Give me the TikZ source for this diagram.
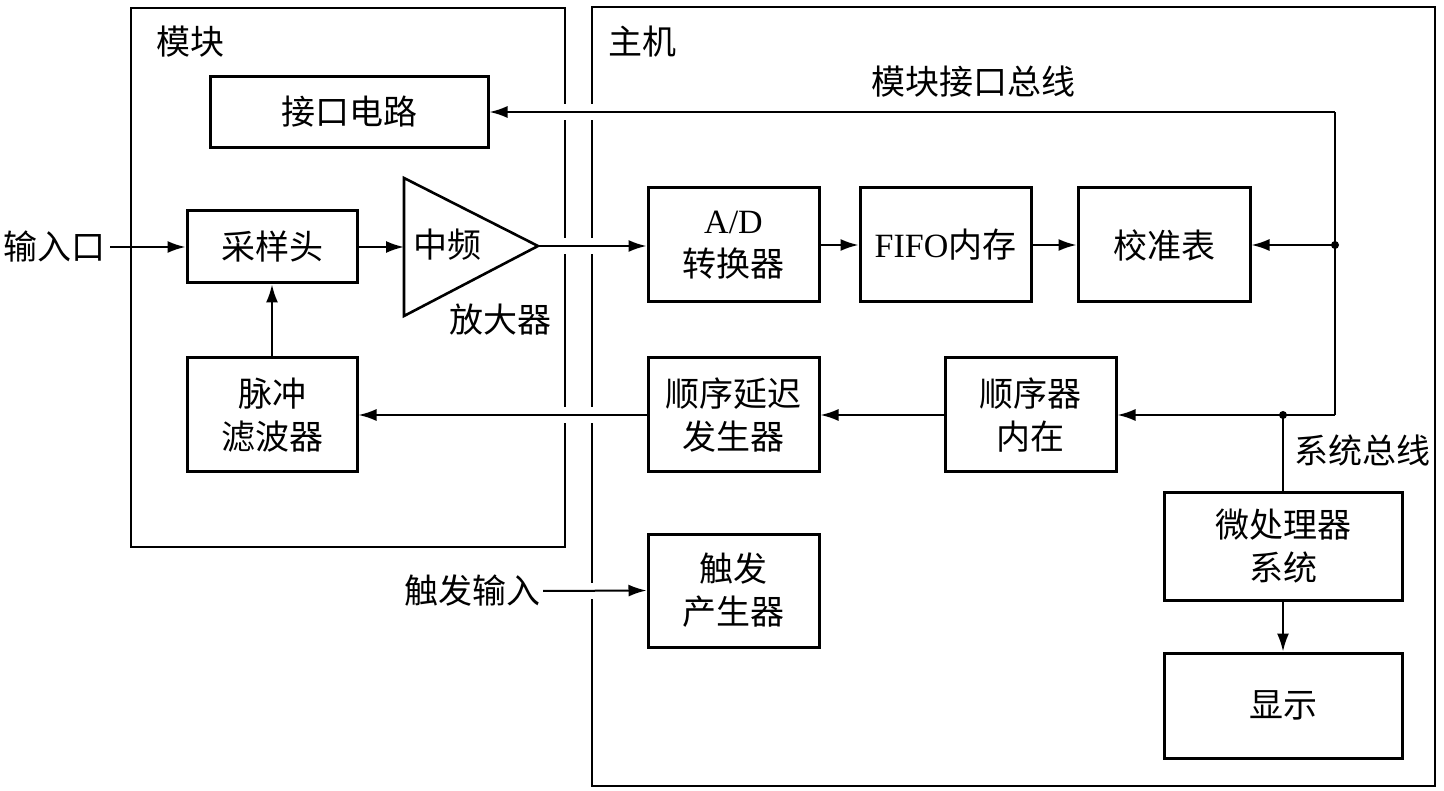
\documentclass[tikz,border=0pt]{standalone}
\usepackage{fontspec}
\setmainfont{Liberation Serif}
\newfontfamily\cjk{Noto Sans CJK SC}
\newfontfamily\latf{Liberation Serif}
\usetikzlibrary{arrows.meta}
\begin{document}
\begin{tikzpicture}[x=1pt,y=-1pt,
  txt/.style={font=\cjk\fontsize{34}{43}\selectfont, inner sep=0pt, align=center},
  blk/.style={draw, line width=3pt, txt},
  frame/.style={line width=2.4pt},
  conn/.style={line width=2pt},
  arr/.style={conn, -{Latex[length=18pt,width=12pt]}},
  dot/.style={circle, fill, inner sep=0pt, minimum size=8pt}]
\useasboundingbox (0,0) rectangle (1444,791);
% frames
\draw[frame] (131,8) rectangle (565,547);
\draw[frame] (592,7) rectangle (1435,786);
\node[txt] (lmod) at (190,42) {模块};
\node[txt] (lhost) at (642,42) {主机};
% boxes
\node[blk, minimum width=278, minimum height=71] (iface) at (349,112) {接口电路};
\node[blk, minimum width=170, minimum height=72] (samp) at (272,247) {采样头};
\node[blk, minimum width=170, minimum height=114] (pulse) at (272,415) {脉冲\\滤波器};
\node[blk, minimum width=171, minimum height=114] (ad) at (733.5,245) {{\latf A/D}\\转换器};
\node[blk, minimum width=171, minimum height=114] (fifo) at (945.5,245) {{\latf FIFO}内存};
\node[blk, minimum width=172, minimum height=114] (cal) at (1164,245) {校准表};
\node[blk, minimum width=171, minimum height=114] (seqd) at (733.5,415) {顺序延迟\\发生器};
\node[blk, minimum width=171, minimum height=114] (seq) at (1030.5,415) {顺序器\\内在};
\node[blk, minimum width=171, minimum height=113] (trig) at (733.5,590.5) {触发\\产生器};
\node[blk, minimum width=238, minimum height=107] (mpu) at (1283,546.5) {微处理器\\系统};
\node[blk, minimum width=238, minimum height=105] (disp) at (1283,705.5) {显示};
% amplifier
\coordinate (ampA) at (404,178);
\coordinate (ampB) at (404,316);
\coordinate (amptip) at (538,246);
\draw[line width=2.6pt, line join=miter] (ampA) -- (ampB) -- (amptip) -- cycle;
\node[txt] (ampin) at (447,245) {中频};
\node[txt] (ampl) at (500,320) {放大器};
% labels
\node[txt] (inlab) at (54,247) {输入口};
\node[txt] (trlab) at (472,591) {触发输入};
\node[txt] (buslab) at (973,82) {模块接口总线};
\node[txt] (syslab) at (1362,450) {系统总线};
% gaps in frames
\foreach \yy in {112,246,415} {
  \fill[white] (561,\yy-8) rectangle (569,\yy+8);
  \fill[white] (588,\yy-8) rectangle (596,\yy+8);
}
\fill[white] (588,583) rectangle (596,599);
% bus
\coordinate (busTop) at (1335,112);
\coordinate (busMid) at (1335,245);
\coordinate (busBot) at (1335,415);
\coordinate (sysJ) at (1283,415);
\draw[conn] (busBot) -- (busTop);
\draw[arr] (busTop) -- (iface.east);
\draw[arr] (busMid) -- (cal.east);
\draw[arr] (busBot) -- (seq.east);
\draw[conn] (sysJ) -- (mpu.north);
\node[dot] (d1) at (busMid) {};
\node[dot] (d2) at (sysJ) {};
% signal flow
\draw[arr] (110,247) -- (samp.west);
\draw[arr] (samp.east) -- (ampA |- samp.east);
\draw[arr] (amptip) -- (amptip -| ad.west);
\draw[arr] (ad.east) -- (fifo.west);
\draw[arr] (fifo.east) -- (cal.west);
\draw[arr] (seq.west) -- (seqd.east);
\draw[arr] (seqd.west) -- (pulse.east);
\draw[arr] (pulse.north) -- (samp.south);
\draw[arr] (543,591) -- (trig.west);
\draw[arr] (mpu.south) -- (disp.north);
\end{tikzpicture}
\end{document}
